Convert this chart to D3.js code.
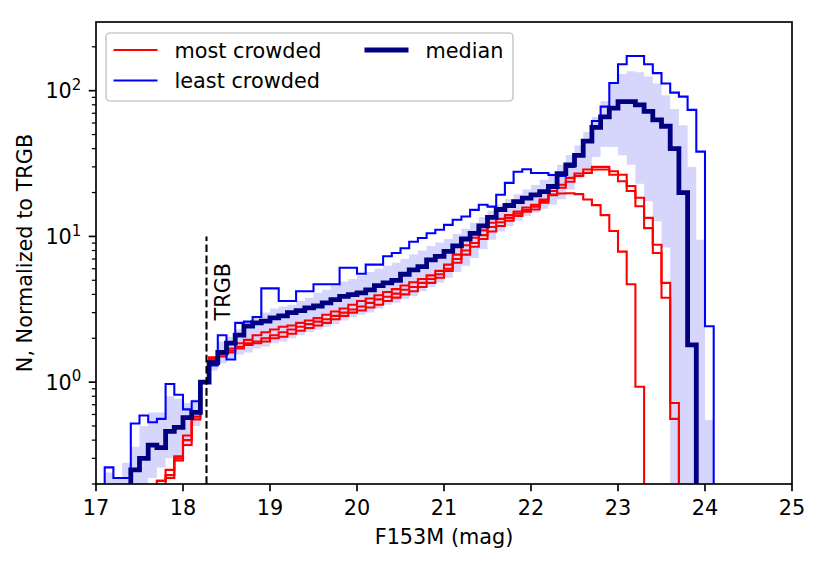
<!DOCTYPE html>
<html>
<head>
<meta charset="utf-8">
<title>TRGB luminosity functions</title>
<script src="https://cdn.jsdelivr.net/npm/d3@7"></script>
<style>
  body { margin: 0; background: #fff; }
  text { font-family: "DejaVu Sans", sans-serif; fill: #000; }
</style>
</head>
<body>
<div id="chart"></div>
<script>
// bin starts, 0.1 mag wide
var binStart = d3.range(72).map(function(i) { return +(17 + i * 0.1).toFixed(1); });
var binWidth = 0.1;

// most crowded fields (three of them)
var crowdedA = [0,0,0,0,0,0,0,0.21,0.25,0.31,
  0.43,0.62,1.0,1.45,1.5,1.6,1.7,1.8,1.85,1.9,
  2.0,2.05,2.15,2.25,2.35,2.45,2.55,2.7,2.85,3.0,
  3.1,3.25,3.4,3.6,3.8,4.0,4.2,4.5,4.8,5.2,
  5.8,6.6,7.5,8.5,9.6,10.8,11.8,12.8,13.8,14.8,
  16.0,17.5,19.2,19.7,19.8,19.5,17.9,16.4,14.0,10.9,
  7.86,4.69,0.93,0,0,0,0,0,0,0,
  0,0];
var crowdedB = [0,0,0,0,0,0,0,0,0.22,0.29,
  0.37,0.555,1.0,1.42,1.55,1.7,1.85,1.95,2.1,2.2,
  2.3,2.4,2.45,2.55,2.65,2.75,2.9,3.05,3.2,3.4,
  3.6,3.75,3.95,4.15,4.35,4.6,4.85,5.1,5.4,5.8,
  6.4,7.5,8.7,9.8,11.0,12.4,13.2,14.0,14.8,15.8,
  16.5,17.9,20.5,22.6,25.2,27,28.8,30,30,28,
  26.5,22.2,18.4,13.4,8.77,4.8,0.72,0,0,0,
  0,0];
var crowdedC = [0,0,0,0,0,0,0,0.21,0.23,0.30,
  0.40,0.58,1.0,1.48,1.6,1.65,1.75,1.85,1.9,2.0,
  2.1,2.2,2.3,2.4,2.5,2.6,2.7,2.85,3.0,3.15,
  3.3,3.5,3.7,3.85,4.05,4.3,4.5,4.8,5.1,5.5,
  6.0,7.0,8.0,9.0,10.2,11.6,12.5,13.4,14.3,15.2,
  15.3,17.0,19.4,21.6,23.7,26,27.3,28.8,28.8,26.5,
  23.9,20.5,16.1,11.4,7.7,3.79,0.56,0,0,0,
  0,0];
// least crowded field
var leastCrowded = [0,0.26,0.22,0.22,0.52,0.59,0.53,0.56,0.97,0.82,
  0.65,0.74,1.0,1.3,2.1,1.43,2.55,2.6,2.8,4.4,
  4.4,3.6,3.6,4.2,4.2,4.7,4.7,4.7,6.1,6.1,
  5.55,6.4,6.4,7.3,7.7,8.3,9.2,9.75,10.5,11.1,
  12.0,13.0,13.7,15.2,16.5,16.0,19.3,23.3,27.8,28.9,
  27.2,27.2,26.4,26,30,36,45,62,77.7,113,
  152,173,173,152,132,112,97,91,73.8,38.2,
  2.42,0];
// median of all fields
var median = [0,0,0,0,0.25,0.30,0.37,0.355,0.46,0.49,
  0.57,0.62,1.0,1.36,1.6,1.85,2.1,2.42,2.55,2.62,
  2.76,2.85,3.0,3.1,3.23,3.33,3.5,3.68,3.88,3.98,
  4.1,4.3,4.6,4.8,5.0,5.5,5.9,6.2,6.9,7.3,
  7.9,8.6,9.6,10.5,11.8,13.5,15.3,16.3,17.3,18.3,
  19.3,20.3,22.0,27,31,36,45,56,66,76,
  84,84,80,72,63,57,40,20,1.8,0,
  0,0];
// spread of all fields (shaded band)
var bandLow = [0,0,0,0,0,0,0.22,0.26,0.3,0.3,
  0.36,0.5,0.97,1.2,1.35,1.45,1.55,1.6,1.7,1.75,
  1.85,1.9,2.0,2.1,2.2,2.3,2.4,2.5,2.65,2.8,
  2.9,3.0,3.2,3.4,3.5,3.7,3.9,4.2,4.5,4.8,
  5.2,5.7,6.3,7.1,8.2,9.5,10.8,11.8,12.8,13.8,
  14.6,15.5,16.5,18,21,25,29,35,41,41,
  36,31,23,17.4,12.7,8.4,0,0,0,0,
  0,0];
var bandHigh = [0,0.24,0.22,0.28,0.36,0.5,0.62,0.62,0.8,0.77,
  0.72,0.76,1.03,1.5,1.9,2.05,2.3,2.6,2.8,3.0,
  3.2,3.3,3.4,3.6,3.8,4.1,4.3,4.6,4.9,5.1,
  5.4,5.7,6.0,6.3,6.6,7.0,7.5,8.0,8.6,9.1,
  9.6,10.4,11.3,12.4,13.6,15.0,16.5,18,19.5,21,
  22.5,24.5,27,31,36,42,52,66,85,112,
  130,136,134,125,112,93,75,58,30,9.5,
  0.55,0];

var trgb = 18.27;
var xTicks = [17, 18, 19, 20, 21, 22, 23, 24, 25];
var yTicks = [1, 10, 100];
var yTickLabels = ["0", "1", "2"];

var W = 822, H = 563;
var plotL = 96, plotR = 792, plotT = 22, plotB = 484;
var pt = 150 / 72;

var svg = d3.select("#chart").append("svg")
  .attr("width", W).attr("height", H);

var x = d3.scaleLinear().domain([17, 25]).range([plotL, plotR]);
var y = d3.scaleLog().domain([0.2, 296]).range([plotB, plotT]);

function yv(v) { return v > 0 ? y(v) : plotB + 40; }

svg.append("clipPath").attr("id", "clip")
  .append("rect").attr("x", plotL).attr("y", plotT)
  .attr("width", plotR - plotL).attr("height", plotB - plotT);

var plot = svg.append("g").attr("clip-path", "url(#clip)");

// band
var bandPts = binStart.map(function(b, i) { return { x: b, lo: bandLow[i], hi: bandHigh[i] }; });
bandPts.push({ x: binStart[binStart.length - 1] + binWidth, lo: bandLow[bandLow.length - 1], hi: bandHigh[bandHigh.length - 1] });
plot.append("path")
  .attr("d", d3.area().curve(d3.curveStepAfter)
    .x(function(d) { return x(d.x); })
    .y0(function(d) { return yv(d.lo); })
    .y1(function(d) { return yv(d.hi); })(bandPts))
  .attr("fill", "#d6d6fc").attr("stroke", "none");

function stepPts(vals) {
  var pts = [{ x: binStart[0], v: 0 }];
  binStart.forEach(function(b, i) { pts.push({ x: b, v: vals[i] }); });
  pts.push({ x: binStart[binStart.length - 1] + binWidth, v: 0 });
  return pts;
}
var stepLine = d3.line().curve(d3.curveStepAfter)
  .x(function(d) { return x(d.x); })
  .y(function(d) { return yv(d.v); });

[crowdedA, crowdedB, crowdedC].forEach(function(s) {
  plot.append("path").attr("d", stepLine(stepPts(s)))
    .attr("fill", "none").attr("stroke", "#ff0000").attr("stroke-width", 1 * pt);
});
plot.append("path").attr("d", stepLine(stepPts(leastCrowded)))
  .attr("fill", "none").attr("stroke", "#0000ff").attr("stroke-width", 1 * pt);
plot.append("path").attr("d", stepLine(stepPts(median)))
  .attr("fill", "none").attr("stroke", "#000080").attr("stroke-width", 2.3 * pt);

// TRGB marker
plot.append("line")
  .attr("x1", x(trgb)).attr("x2", x(trgb))
  .attr("y1", y(0.2)).attr("y2", y(10))
  .attr("stroke", "#000").attr("stroke-width", 1 * pt)
  .attr("stroke-dasharray", (3.7 * pt) + "," + (1.6 * pt));
svg.append("text")
  .attr("transform", "translate(" + (x(trgb) + 24) + "," + y(2.65) + ") rotate(-90)")
  .attr("font-size", 20.8).text("TRGB");

// frame
svg.append("rect").attr("x", plotL).attr("y", plotT)
  .attr("width", plotR - plotL).attr("height", plotB - plotT)
  .attr("fill", "none").attr("stroke", "#000").attr("stroke-width", 0.8 * pt);

// x axis
var xAxis = svg.append("g");
xTicks.forEach(function(t) {
  xAxis.append("line").attr("x1", x(t)).attr("x2", x(t))
    .attr("y1", plotB).attr("y2", plotB + 3.5 * pt)
    .attr("stroke", "#000").attr("stroke-width", 0.8 * pt);
  xAxis.append("text").attr("x", x(t)).attr("y", plotB + 30.5)
    .attr("text-anchor", "middle").attr("font-size", 20.8).text(t);
});
svg.append("text").attr("x", (plotL + plotR) / 2).attr("y", 544)
  .attr("text-anchor", "middle").attr("font-size", 20.8).text("F153M (mag)");

// y axis
var yAxis = svg.append("g");
var minor = [];
[0.1, 1, 10, 100].forEach(function(dec) {
  for (var k = 2; k <= 9; k++) {
    var v = +(k * dec).toPrecision(3);
    if (v >= 0.2 && v <= 296) minor.push(v);
  }
});
minor.forEach(function(v) {
  yAxis.append("line").attr("x1", plotL - 2 * pt).attr("x2", plotL)
    .attr("y1", y(v)).attr("y2", y(v))
    .attr("stroke", "#000").attr("stroke-width", 0.6 * pt);
});
yTicks.forEach(function(t, i) {
  yAxis.append("line").attr("x1", plotL - 3.5 * pt).attr("x2", plotL)
    .attr("y1", y(t)).attr("y2", y(t))
    .attr("stroke", "#000").attr("stroke-width", 0.8 * pt);
  var lab = yAxis.append("text").attr("x", plotL - 14.6).attr("y", y(t) + 7.6)
    .attr("text-anchor", "end").attr("font-size", 20.8);
  lab.append("tspan").text("10");
  lab.append("tspan").attr("dy", -8.3).attr("font-size", 15).text(yTickLabels[i]);
});
svg.append("text")
  .attr("transform", "translate(32," + ((plotT + plotB) / 2) + ") rotate(-90)")
  .attr("text-anchor", "middle").attr("font-size", 20.8)
  .text("N, Normalized to TRGB");

// legend
var leg = svg.append("g");
leg.append("rect").attr("x", 106).attr("y", 33).attr("width", 407).attr("height", 68)
  .attr("rx", 4).attr("fill", "#fff").attr("fill-opacity", 0.8)
  .attr("stroke", "#cccccc").attr("stroke-width", 0.8 * pt);
var items = [
  { label: "most crowded", color: "#ff0000", w: 1 * pt, lx: 113.5, ly: 50 },
  { label: "least crowded", color: "#0000ff", w: 1 * pt, lx: 113.5, ly: 80.5 },
  { label: "median", color: "#000080", w: 2.3 * pt, lx: 364.5, ly: 50 }
];
items.forEach(function(it) {
  leg.append("line").attr("x1", it.lx).attr("x2", it.lx + 44)
    .attr("y1", it.ly).attr("y2", it.ly)
    .attr("stroke", it.color).attr("stroke-width", it.w);
  leg.append("text").attr("x", it.lx + 61).attr("y", it.ly + 7.6)
    .attr("font-size", 20.8).text(it.label);
});
</script>
</body>
</html>
